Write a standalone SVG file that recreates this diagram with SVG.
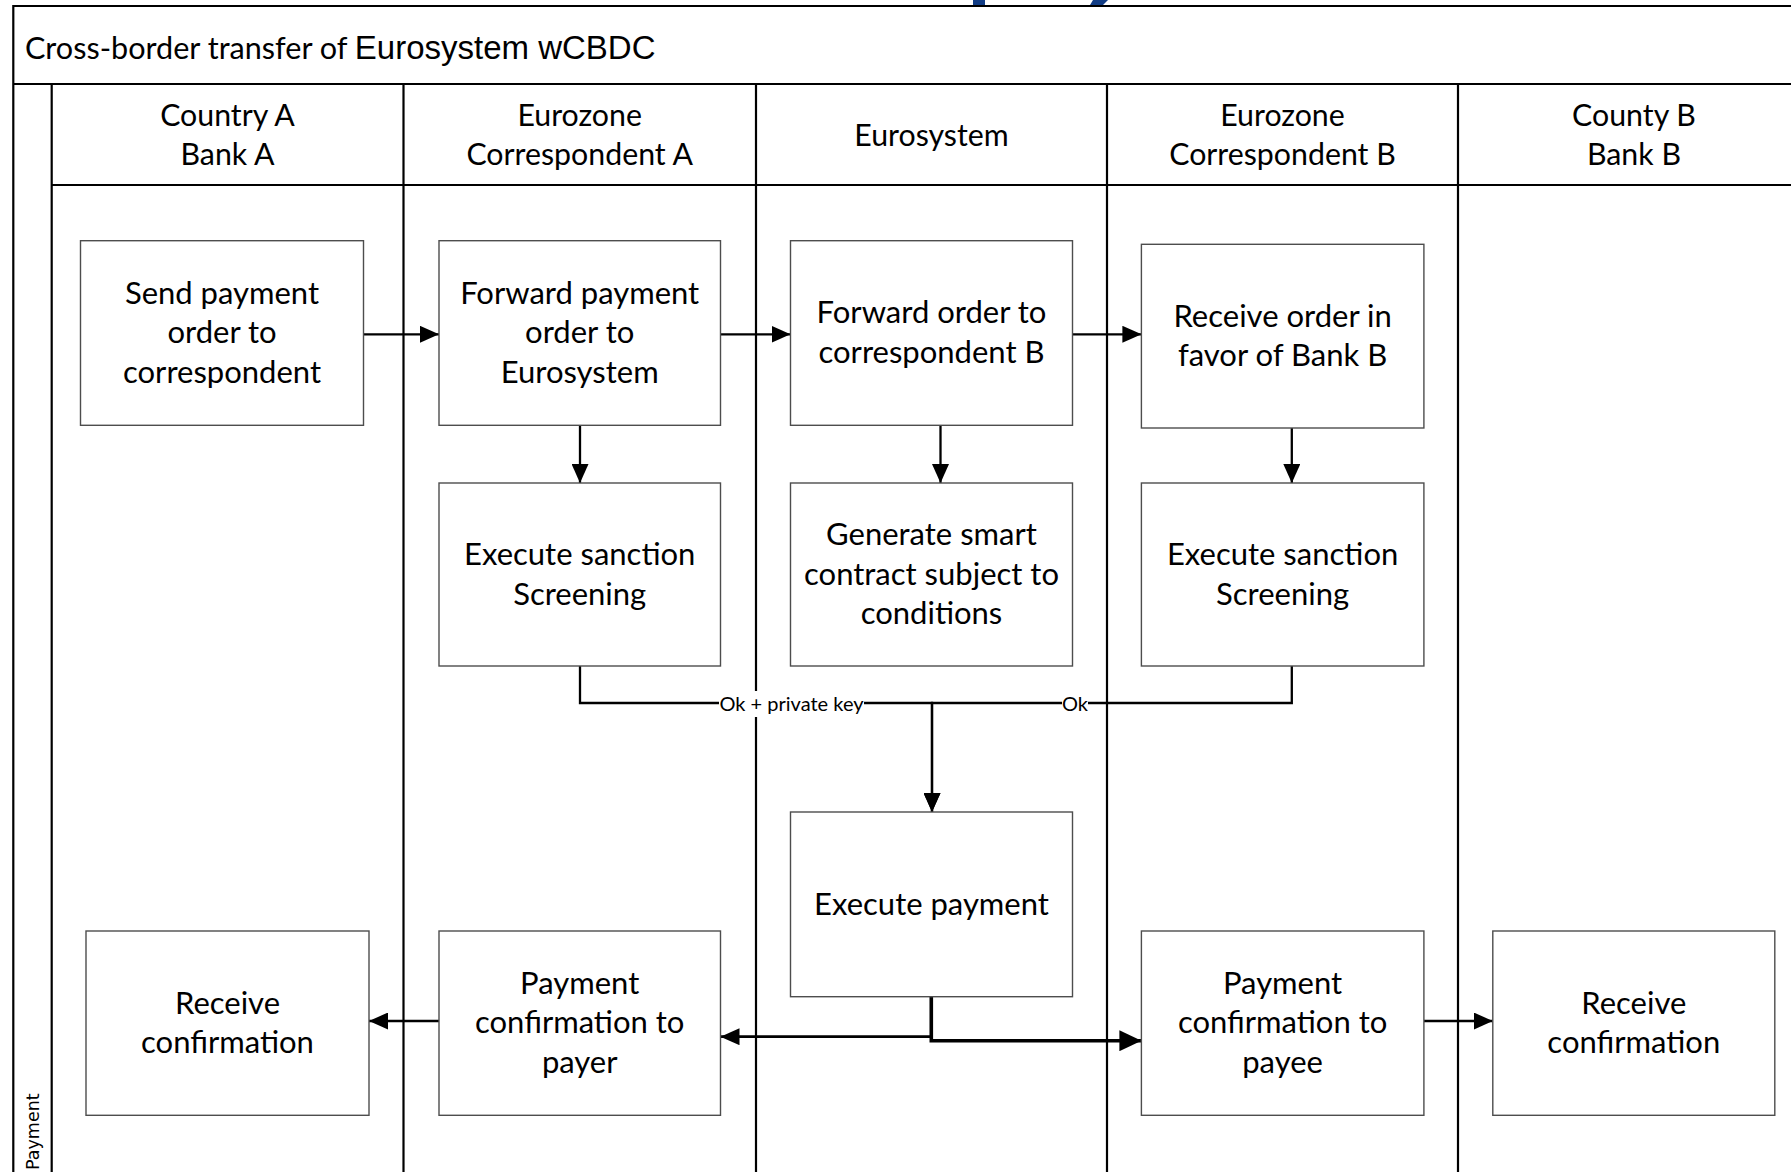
<svg xmlns="http://www.w3.org/2000/svg" width="1791" height="1172" viewBox="0 0 1791 1172">
<defs>
<style>
.frame{fill:none;stroke:#000;stroke-width:2.2}
.lane{fill:none;stroke:#000;stroke-width:2.2}
.box{fill:#fff;stroke:#4d4d4d;stroke-width:1.4}
.txt{font-family:Lato,"Liberation Sans",sans-serif;font-size:31px;fill:#000;text-anchor:middle}
.hdr{font-family:Lato,"Liberation Sans",sans-serif;font-size:30.3px;fill:#000;text-anchor:middle}
.conn{fill:none;stroke:#000;stroke-width:2.3}
.lbl{font-family:Lato,"Liberation Sans",sans-serif;font-size:20px;fill:#000;text-anchor:middle}
</style>
<marker id="ah" markerUnits="userSpaceOnUse" viewBox="0 0 19 17" markerWidth="19" markerHeight="17" refX="19" refY="8.5" orient="auto"><path d="M0,0 L19,8.5 L0,17 z" fill="#000"/></marker>
<marker id="ahL" markerUnits="userSpaceOnUse" viewBox="0 0 22 21" markerWidth="22" markerHeight="21" refX="22" refY="10.5" orient="auto"><path d="M0,0 L22,10.5 L0,21 z" fill="#000"/></marker>
</defs>
<rect width="1791" height="1172" fill="#fff"/>

<g id="title-fragment" fill="#123d85">
<polygon points="973,0 985,0 985,5 973,5"/>
<polygon points="1093,0 1108,0 1103,5 1090,5"/>
</g>

<g id="pool">
<path class="frame" d="M1800,6 H13.3 V1180"/>
<line class="frame" x1="13.3" y1="84" x2="1800" y2="84"/>
<line class="lane" x1="51.7" y1="84" x2="51.7" y2="1180"/>
<line class="lane" x1="51.7" y1="185" x2="1800" y2="185"/>
<line class="lane" x1="403.5" y1="84" x2="403.5" y2="1180"/>
<line class="lane" x1="756" y1="84" x2="756" y2="1180"/>
<line class="lane" x1="1107" y1="84" x2="1107" y2="1180"/>
<line class="lane" x1="1458" y1="84" x2="1458" y2="1180"/>
<text x="25" y="59" style="font-family:Lato,'Liberation Sans',sans-serif;font-size:30.6px;fill:#000">Cross-border transfer of <tspan style="font-family:'Liberation Sans',Arial,sans-serif;font-size:33px">Eurosystem wCBDC</tspan></text>
<text transform="translate(38.5,1170) rotate(-90)" style="font-family:'DejaVu Sans',Verdana,sans-serif;font-size:17.5px;fill:#000">Payment</text>
</g>

<g id="lane-headers">
<text class="hdr" x="227.5" y="126">Country A</text>
<text class="hdr" x="227.5" y="165">Bank A</text>
<text class="hdr" x="579.7" y="126">Eurozone</text>
<text class="hdr" x="579.7" y="165">Correspondent A</text>
<text class="hdr" x="931.5" y="146">Eurosystem</text>
<text class="hdr" x="1282.5" y="126">Eurozone</text>
<text class="hdr" x="1282.5" y="165">Correspondent B</text>
<text class="hdr" x="1634" y="126">County B</text>
<text class="hdr" x="1634" y="165">Bank B</text>
</g>

<g id="connectors">
<line class="conn" x1="363.4" y1="334.3" x2="439" y2="334.3" marker-end="url(#ah)"/>
<line class="conn" x1="720.5" y1="334.3" x2="790.5" y2="334.3" marker-end="url(#ah)"/>
<line class="conn" x1="1072.5" y1="334.3" x2="1141.4" y2="334.3" marker-end="url(#ah)"/>
<line class="conn" x1="580" y1="425.3" x2="580" y2="483" marker-end="url(#ah)"/>
<line class="conn" x1="940.5" y1="425.3" x2="940.5" y2="483" marker-end="url(#ah)"/>
<line class="conn" x1="1291.8" y1="428" x2="1291.8" y2="483" marker-end="url(#ah)"/>
<path class="conn" d="M580,666 V703 H932 V812" marker-end="url(#ah)"/>
<path class="conn" d="M1291.8,666 V703 H932 V812" marker-end="url(#ah)"/>
<rect x="719" y="691" width="145" height="26" fill="#fff"/>
<text class="lbl" x="791.5" y="711">Ok + private key</text>
<rect x="1062" y="691" width="26" height="26" fill="#fff"/>
<text class="lbl" x="1075" y="711">Ok</text>
<path class="conn" style="stroke-width:2.7" d="M931.3,996.7 V1036.7 H720.5" marker-end="url(#ah)"/>
<path class="conn" style="stroke-width:3.6" d="M931.3,996.7 V1040.7 H1141.4" marker-end="url(#ahL)"/>
<line class="conn" x1="439" y1="1021" x2="369" y2="1021" marker-end="url(#ah)"/>
<line class="conn" x1="1424" y1="1021" x2="1492.8" y2="1021" marker-end="url(#ah)"/>
</g>

<g id="n-send"><rect class="box" x="80.5" y="240.7" width="283" height="184.6"/>
<text class="txt" x="222" y="303.6">Send payment</text><text class="txt" x="222" y="343.2">order to</text><text class="txt" x="222" y="382.9">correspondent</text></g>

<g id="n-forward-payment"><rect class="box" x="439" y="240.7" width="281.5" height="184.6"/>
<text class="txt" x="579.7" y="303.6">Forward payment</text><text class="txt" x="579.7" y="343.2">order to</text><text class="txt" x="579.7" y="382.9">Eurosystem</text></g>

<g id="n-forward-order"><rect class="box" x="790.5" y="240.7" width="282" height="184.6"/>
<text class="txt" x="931.5" y="323.4">Forward order to</text><text class="txt" x="931.5" y="363">correspondent B</text></g>

<g id="n-receive-order"><rect class="box" x="1141.4" y="244.3" width="282.5" height="183.7"/>
<text class="txt" x="1282.6" y="326.5">Receive order in</text><text class="txt" x="1282.6" y="366.2">favor of Bank B</text></g>

<g id="n-sanction-a"><rect class="box" x="439" y="483" width="281.5" height="183"/>
<text class="txt" x="579.7" y="564.9">Execute sanction</text><text class="txt" x="579.7" y="604.5">Screening</text></g>

<g id="n-generate"><rect class="box" x="790.5" y="483" width="282" height="183"/>
<text class="txt" x="931.5" y="545">Generate smart</text><text class="txt" x="931.5" y="584.7">contract subject to</text><text class="txt" x="931.5" y="624.4">conditions</text></g>

<g id="n-sanction-b"><rect class="box" x="1141.4" y="483" width="282.5" height="183"/>
<text class="txt" x="1282.6" y="564.9">Execute sanction</text><text class="txt" x="1282.6" y="604.5">Screening</text></g>

<g id="n-execute-payment"><rect class="box" x="790.5" y="812" width="282" height="184.7"/>
<text class="txt" x="931.5" y="914.6">Execute payment</text></g>

<g id="n-receive-conf-a"><rect class="box" x="86" y="931" width="283" height="184.3"/>
<text class="txt" x="227.5" y="1013.5">Receive</text><text class="txt" x="227.5" y="1053.2">confirmation</text></g>

<g id="n-conf-payer"><rect class="box" x="439" y="931" width="281.5" height="184.3"/>
<text class="txt" x="579.7" y="993.7">Payment</text><text class="txt" x="579.7" y="1033.4">confirmation to</text><text class="txt" x="579.7" y="1073.1">payer</text></g>

<g id="n-conf-payee"><rect class="box" x="1141.4" y="931" width="282.5" height="184.3"/>
<text class="txt" x="1282.6" y="993.7">Payment</text><text class="txt" x="1282.6" y="1033.4">confirmation to</text><text class="txt" x="1282.6" y="1073.1">payee</text></g>

<g id="n-receive-conf-b"><rect class="box" x="1492.8" y="931" width="282" height="184.3"/>
<text class="txt" x="1633.8" y="1013.5">Receive</text><text class="txt" x="1633.8" y="1053.2">confirmation</text></g>
</svg>
